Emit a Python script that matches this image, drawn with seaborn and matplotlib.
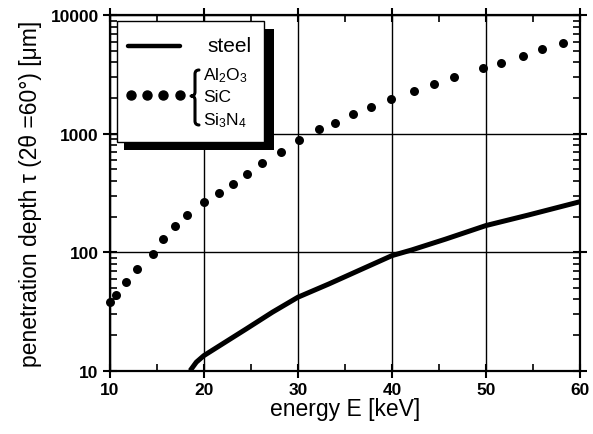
import numpy as np
import pandas as pd
import matplotlib
matplotlib.use("Agg")
import matplotlib.pyplot as plt
import seaborn as sns
from matplotlib.transforms import Affine2D
from matplotlib.patches import Rectangle, PathPatch
from matplotlib.path import Path
from matplotlib.lines import Line2D
from matplotlib.ticker import FixedLocator, FixedFormatter, LogLocator, NullFormatter, MultipleLocator

# ---- data ----
ceramic_energy = [10.0, 10.7, 11.7, 12.85, 14.6, 15.7, 16.9, 18.2, 20.05, 21.6, 23.1, 24.55,
                  26.2, 28.2, 30.1, 32.2, 34.0, 35.9, 37.8, 39.9, 42.4, 44.5, 46.6, 49.7,
                  51.6, 53.9, 56.0, 58.2]
ceramic_depth = [37.8, 43.9, 55.9, 72.2, 96.8, 129, 167, 207, 264, 316, 377, 458,
                 564, 706, 887, 1097, 1230, 1475, 1698, 1959, 2290, 2637, 3041, 3573,
                 3965, 4510, 5200, 5810]
steel_energy = [18.54, 19.2, 20.0, 21.7, 24.5, 27.3, 30.0, 33.3, 36.8, 40.0, 42.1, 45.7,
                50.0, 54.5, 60.0]
steel_depth = [10.0, 11.8, 13.4, 16.3, 22.5, 31.2, 41.7, 54.0, 72.0, 93.6, 104.5, 129,
               168, 206, 267]
x_ticks = [10, 20, 30, 40, 50, 60]
y_ticks = [10, 100, 1000, 10000]
y_tick_labels = ["10", "100", "1000", "10000"]
legend_steel = "steel"
legend_ceramics = ["Al$_2$O$_3$", "SiC", "Si$_3$N$_4$"]
x_label = "energy E [keV]"
y_label = "penetration depth \u03c4 (2\u03b8 =60\u00b0) [\u03bcm]"

sns.set_style("ticks")
plt.rcParams.update({
    "font.family": ["Liberation Sans", "DejaVu Sans"],
    "mathtext.default": "regular",
    "text.color": "black",
    "axes.labelcolor": "black",
    "xtick.color": "black",
    "ytick.color": "black",
})

W, H = 593, 435
fig = plt.figure(figsize=(W / 100, H / 100), dpi=100)
ax = fig.add_axes([109.8 / W, 1 - 371.7 / H, 470.2 / W, (371.7 - 16.3) / H])

df_c = pd.DataFrame({"E": ceramic_energy, "tau": ceramic_depth})
df_s = pd.DataFrame({"E": steel_energy, "tau": steel_depth})

sns.lineplot(data=df_s, x="E", y="tau", ax=ax, color="black", lw=3.6, sort=True,
             solid_capstyle="butt", zorder=3)
sns.scatterplot(data=df_c, x="E", y="tau", ax=ax, color="black", s=42, linewidth=0,
                zorder=4, clip_on=False)

ax.set_yscale("log")
ax.set_xlim(10, 60)
ax.set_ylim(10, 10000)

ax.xaxis.set_major_locator(FixedLocator(x_ticks))
ax.xaxis.set_minor_locator(MultipleLocator(5))
ax.yaxis.set_major_locator(FixedLocator(y_ticks))
ax.yaxis.set_major_formatter(FixedFormatter(y_tick_labels))
ax.yaxis.set_minor_locator(LogLocator(base=10, subs=np.arange(2, 10), numticks=20))
ax.yaxis.set_minor_formatter(NullFormatter())

ax.grid(which="major", color="black", lw=1.0)
for s in ax.spines.values():
    s.set_color("black")
    s.set_linewidth(1.6)
    s.set_visible(True)

ax.tick_params(which="major", direction="inout", length=10, width=1.5, color="black",
               bottom=True, left=True, top=True, right=True, labelsize=12.5, pad=3,
               labelcolor="black")
ax.tick_params(which="minor", direction="in", length=5, width=1.2, color="black",
               top=True, right=True, bottom=True, left=True)
for lab in ax.get_xticklabels() + ax.get_yticklabels():
    lab.set_fontweight("bold")

ax.set_xlabel(x_label, fontsize=16.5, labelpad=0, color="black")
ax.set_ylabel(y_label, fontsize=16.5, labelpad=6, color="black")

# ---- legend (pixel coordinates of the image, y downward) ----
px = Affine2D().scale(1 / W, -1 / H).translate(0, 1) + fig.transFigure
ax.add_patch(Rectangle((124, 30), 150, 121, transform=px, facecolor="black",
                       edgecolor="none", zorder=10, clip_on=False))
ax.add_patch(Rectangle((117, 22), 147, 121, transform=px, facecolor="white",
                       edgecolor="black", lw=1.0, zorder=11, clip_on=False))
ax.add_line(Line2D([128, 180], [47, 47], transform=px, color="black", lw=3.2,
                   zorder=12, clip_on=False))
ax.text(207, 46, legend_steel, transform=px, fontsize=15, ha="left", va="center",
        zorder=12)
ax.add_line(Line2D([131, 147, 163, 180], [96, 96, 96, 96], transform=px, ls="none",
                   marker="o", ms=6.5, mfc="black", mec="black", zorder=12, clip_on=False))
# curly brace drawn as a path
bx, btop, bmid, bbot = 195.0, 71.0, 97.0, 126.0
brace_verts = [(bx + 4, btop), (bx, btop), (bx, btop + 4),
               (bx, bmid - 4),
               (bx, bmid), (bx - 4, bmid),
               (bx, bmid), (bx, bmid + 4),
               (bx, bbot - 4),
               (bx, bbot), (bx + 4, bbot)]
brace_codes = [Path.MOVETO, Path.CURVE3, Path.CURVE3,
               Path.LINETO,
               Path.CURVE3, Path.CURVE3,
               Path.CURVE3, Path.CURVE3,
               Path.LINETO,
               Path.CURVE3, Path.CURVE3]
ax.add_patch(PathPatch(Path(brace_verts, brace_codes), transform=px, facecolor="none",
                       edgecolor="black", lw=2.2, zorder=12, clip_on=False,
                       capstyle="round", joinstyle="round"))
for lbl, yy in zip(legend_ceramics, [76, 98, 121]):
    ax.text(203, yy, lbl, transform=px, fontsize=12.5, ha="left", va="center", zorder=12)

fig.savefig("out.png", dpi=100)
